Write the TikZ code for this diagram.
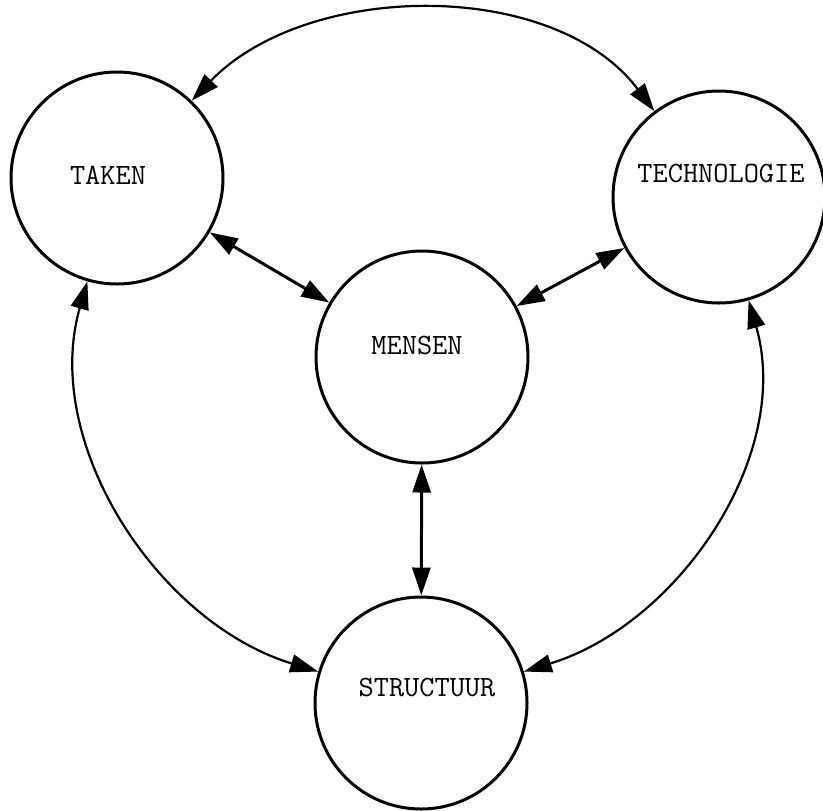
\documentclass[tikz,border=0pt]{standalone}
\usepackage{fontspec}
\usetikzlibrary{arrows.meta}

\begin{document}
\begin{tikzpicture}[x=0.5pt, y=-0.5pt, line cap=round, line join=round,
    ring/.style={circle, draw, line width=1.5pt, minimum size=106pt, inner sep=0pt},
    word/.style={font=\ttfamily\addfontfeatures{FakeBold=0.4}\fontsize{14.75}{17}\selectfont, inner sep=0pt},
    link/.style={line width=1.1pt, {Triangle[length=14pt,width=9pt]}-{Triangle[length=14pt,width=9pt]}},
    spoke/.style={link, line width=1.5pt}]
  \useasboundingbox (0,0) rectangle (823,810);
  % The four elements.
  \node[ring] (taken) at (117,178) {};
  \node[ring] (techn) at (719,197) {};
  \node[ring] (mensen) at (422,357) {};
  \node[ring] (struct) at (421,703) {};
  \node[word] (takenlbl) at (108,175) {TAKEN};
  \node[word] (technlbl) at (721,173) {TECHNOLOGIE};
  \node[word] (mensenlbl) at (417,345) {MENSEN};
  \node[word] (structlbl) at (427,687) {STRUCTUUR};
  % Spokes to the centre.
  \draw[spoke] (taken) -- (mensen);
  \draw[spoke] (mensen) -- (techn);
  \draw[spoke] (mensen) -- (struct);
  % Outer ring.
  \draw[link] (taken) to[out=46, in=127, looseness=0.92] (techn);
  \draw[link] (taken) to[out=254, in=163, looseness=0.95] (struct);
  \draw[link] (techn) to[out=-74, in=17, looseness=0.95] (struct);
\end{tikzpicture}
\end{document}
